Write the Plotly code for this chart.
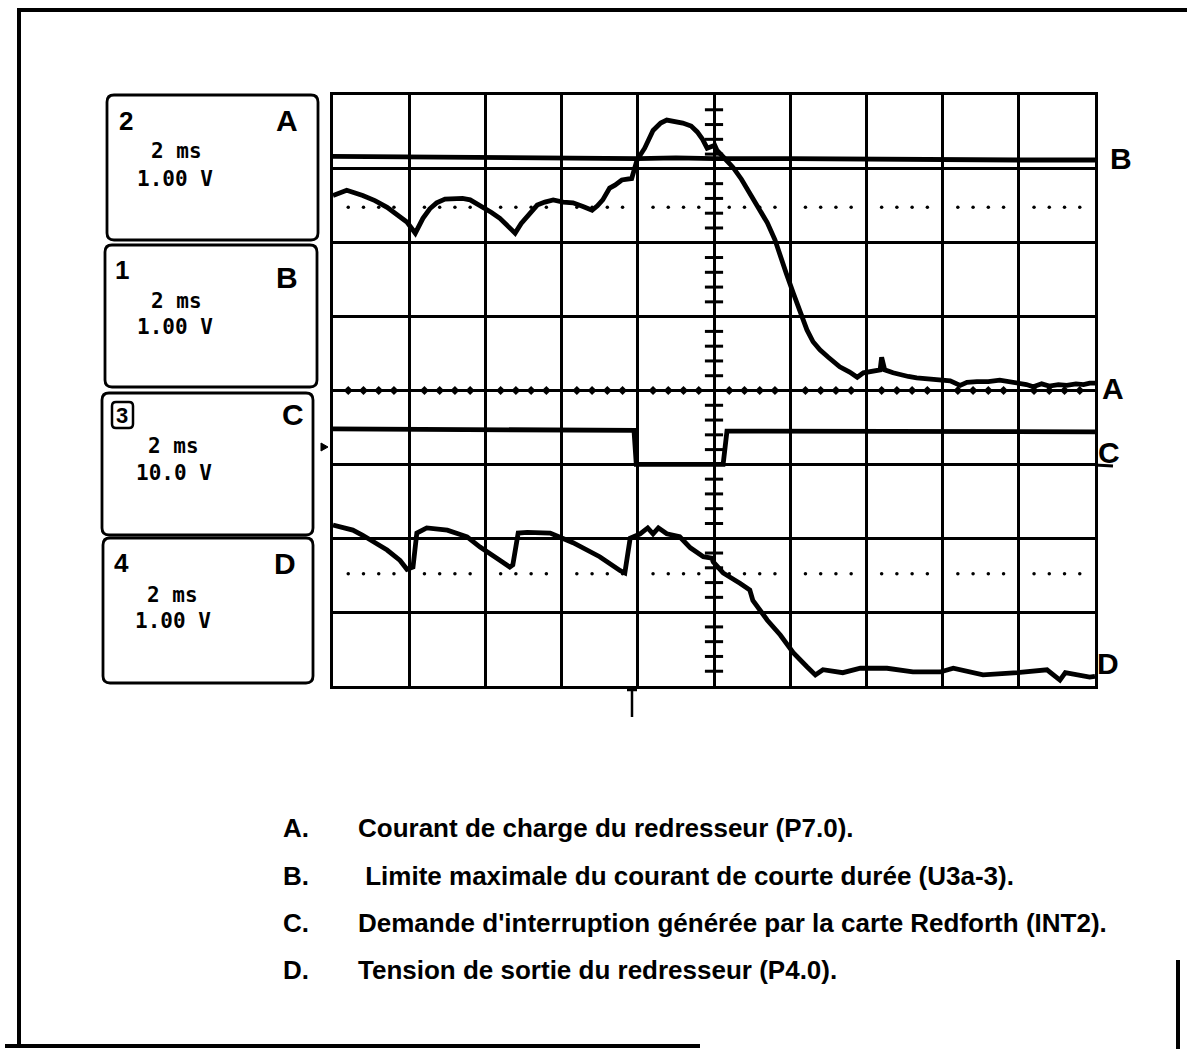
import plotly.graph_objects as go
import numpy as np

W, H = 1187, 1049

# ---------------- data (screen divisions: x 0..10, y 0..8) ----------------
A_x = [0.00, 0.18, 0.39, 0.55, 0.71, 0.85, 0.97, 1.08, 1.18, 1.27, 1.36, 1.47, 1.57, 1.70, 1.80,
       1.97, 2.08, 2.19, 2.30, 2.39, 2.47, 2.55, 2.68, 2.78, 2.89, 3.02, 3.15, 3.28, 3.40, 3.47,
       3.54, 3.63, 3.70, 3.79, 3.92, 3.99, 4.09, 4.20, 4.30, 4.38, 4.50, 4.59, 4.70, 4.78, 4.85,
       4.91, 5.01, 5.04, 5.15, 5.25, 5.36, 5.47, 5.58, 5.70, 5.80, 5.87, 5.95, 6.04, 6.13, 6.22,
       6.30, 6.39, 6.50, 6.58, 6.65, 6.78, 6.88, 6.96, 7.05, 7.18, 7.20, 7.24, 7.35, 7.45, 7.55,
       7.66, 7.80, 7.97, 8.10, 8.23, 8.32, 8.45, 8.60, 8.75, 8.88, 8.98, 9.10, 9.19, 9.30, 9.40,
       9.52, 9.63, 9.75, 9.85, 9.93, 10.0]
A_y = [6.64, 6.71, 6.64, 6.57, 6.48, 6.38, 6.28, 6.13, 6.33, 6.46, 6.54, 6.59, 6.60, 6.60, 6.58,
       6.48, 6.41, 6.33, 6.23, 6.13, 6.26, 6.35, 6.51, 6.55, 6.58, 6.55, 6.54, 6.49, 6.44, 6.50,
       6.58, 6.74, 6.78, 6.85, 6.87, 7.12, 7.28, 7.52, 7.62, 7.66, 7.64, 7.62, 7.58, 7.50, 7.40,
       7.28, 7.32, 7.25, 7.13, 7.02, 6.86, 6.67, 6.48, 6.27, 6.04, 5.81, 5.58, 5.32, 5.07, 4.82,
       4.66, 4.55, 4.45, 4.38, 4.32, 4.25, 4.18, 4.24, 4.25, 4.28, 4.45, 4.28, 4.24, 4.21, 4.19,
       4.17, 4.16, 4.14, 4.13, 4.07, 4.11, 4.12, 4.12, 4.14, 4.12, 4.10, 4.08, 4.05, 4.09, 4.06,
       4.08, 4.07, 4.09, 4.08, 4.10, 4.10]

B_x = [0.0, 1.0, 2.0, 3.0, 4.0, 4.5, 5.0, 6.0, 7.0, 8.0, 9.0, 10.0]
B_y = [7.17, 7.16, 7.16, 7.15, 7.14, 7.15, 7.14, 7.14, 7.13, 7.13, 7.12, 7.12]

C_x = [0.0, 3.95, 3.98, 5.12, 5.17, 10.0]
C_y = [3.48, 3.46, 3.00, 3.00, 3.45, 3.44]

D_x = [0.00, 0.09, 0.26, 0.39, 0.71, 0.88, 0.97, 1.05, 1.10, 1.23, 1.50, 1.76, 1.93, 2.15, 2.32,
       2.36, 2.43, 2.55, 2.85, 3.15, 3.50, 3.77, 3.83, 3.90, 4.03, 4.13, 4.20, 4.27, 4.38, 4.55,
       4.69, 4.86, 4.97, 4.99, 5.12, 5.34, 5.47, 5.51, 5.70, 5.87, 6.04, 6.22, 6.33, 6.43, 6.69,
       6.92, 7.27, 7.61, 7.97, 8.14, 8.53, 8.98, 9.37, 9.54, 9.61, 9.93, 10.0]
D_y = [2.18, 2.16, 2.11, 2.04, 1.84, 1.70, 1.58, 1.61, 2.07, 2.14, 2.11, 2.02, 1.88, 1.73, 1.61,
       1.64, 2.07, 2.08, 2.07, 1.94, 1.75, 1.56, 1.53, 2.00, 2.06, 2.14, 2.06, 2.14, 2.06, 2.02,
       1.87, 1.75, 1.73, 1.68, 1.53, 1.39, 1.30, 1.16, 0.89, 0.69, 0.45, 0.26, 0.15, 0.22, 0.18,
       0.24, 0.24, 0.19, 0.19, 0.24, 0.15, 0.18, 0.22, 0.08, 0.18, 0.12, 0.13]

REF_LEVELS = [6.48, 1.52]          # dotted reference levels (A and D)
CENTER_X, CENTER_Y = 5.0, 4.0       # graticule centre axes

CH_LABELS = ["A", "B", "C", "D"]
CH_NUMS = ["2", "1", "3", "4"]
CH_TIME = ["2 ms", "2 ms", "2 ms", "2 ms"]
CH_VOLT = ["1.00 V", "1.00 V", "10.0 V", "1.00 V"]

LEGEND_KEYS = ["A.", "B.", "C.", "D."]
LEGEND_TEXT = [
    "Courant de charge du redresseur (P7.0).",
    " Limite maximale du courant de courte durée (U3a-3).",
    "Demande d'interruption générée par la carte Redforth (INT2).",
    "Tension de sortie du redresseur (P4.0).",
]

# ---------------- geometry helpers (pixel -> paper) ----------------
def px(x):
    return x / W

def py(y):
    return 1 - y / H

GX0, GX1, GY0, GY1 = 333, 1095, 95, 686   # graticule in pixels

fig = go.Figure()

# dotted reference lines
sub = np.round(np.arange(0, 10.001, 0.2), 2)
sub = [v for v in sub if abs(v - round(v)) > 1e-6]
for lvl in REF_LEVELS:
    fig.add_trace(go.Scatter(x=sub, y=[lvl] * len(sub), mode="markers",
                             marker=dict(color="black", size=3.5, symbol="circle"),
                             hoverinfo="skip"))

# centre axis minor ticks
fig.add_trace(go.Scatter(x=sub, y=[CENTER_Y] * len(sub), mode="markers",
                         marker=dict(color="black", size=7, symbol="diamond"),
                         hoverinfo="skip"))
suby = np.round(np.arange(0, 8.001, 0.2), 2)
suby = [v for v in suby if abs(v - round(v)) > 1e-6]
fig.add_trace(go.Scatter(x=[CENTER_X] * len(suby), y=suby, mode="markers",
                         marker=dict(color="black", size=13, symbol="line-ew",
                                     line=dict(color="black", width=3)),
                         hoverinfo="skip"))

# signal traces
for xs, ys in [(B_x, B_y), (C_x, C_y), (A_x, A_y), (D_x, D_y)]:
    fig.add_trace(go.Scatter(x=xs, y=ys, mode="lines",
                             line=dict(color="black", width=4.8),
                             hoverinfo="skip"))

axis_common = dict(showgrid=True, gridcolor="black", gridwidth=2.5, dtick=1,
                   showline=True, mirror=True, linecolor="black", linewidth=3,
                   zeroline=False, showticklabels=False, ticks="", fixedrange=True)

fig.update_layout(
    width=W, height=H, margin=dict(l=0, r=0, t=0, b=0),
    paper_bgcolor="white", plot_bgcolor="white", showlegend=False,
    xaxis=dict(range=[0, 10], domain=[px(GX0), px(GX1)], tick0=0, **axis_common),
    yaxis=dict(range=[0, 8], domain=[py(GY1), py(GY0)], tick0=0, **axis_common),
)

shapes = []
# outer frame (partial, as in the scan)
shapes.append(dict(type="line", xref="paper", yref="paper", x0=px(17), x1=px(1187), y0=py(10), y1=py(10),
                   line=dict(color="black", width=4)))
shapes.append(dict(type="line", xref="paper", yref="paper", x0=px(19), x1=px(19), y0=py(10), y1=py(1046),
                   line=dict(color="black", width=4)))
shapes.append(dict(type="line", xref="paper", yref="paper", x0=px(5), x1=px(700), y0=py(1046), y1=py(1046),
                   line=dict(color="black", width=4)))
shapes.append(dict(type="line", xref="paper", yref="paper", x0=px(1178), x1=px(1178), y0=py(960), y1=py(1049),
                   line=dict(color="black", width=4)))

# channel boxes with rounded corners
boxes = [(107, 95, 318, 240), (105, 245, 317, 387), (102, 393, 313, 535), (103, 538, 313, 683)]
r = 7
for (x0, y0, x1, y1) in boxes:
    path = (f"M {px(x0 + r)},{py(y0)} L {px(x1 - r)},{py(y0)} Q {px(x1)},{py(y0)} {px(x1)},{py(y0 + r)} "
            f"L {px(x1)},{py(y1 - r)} Q {px(x1)},{py(y1)} {px(x1 - r)},{py(y1)} "
            f"L {px(x0 + r)},{py(y1)} Q {px(x0)},{py(y1)} {px(x0)},{py(y1 - r)} "
            f"L {px(x0)},{py(y0 + r)} Q {px(x0)},{py(y0)} {px(x0 + r)},{py(y0)} Z")
    shapes.append(dict(type="path", xref="paper", yref="paper", path=path,
                       line=dict(color="black", width=2.8)))

# boxed "3"
bx0, by0, bx1, by1, rr = 112, 402, 133, 428, 4
path = (f"M {px(bx0 + rr)},{py(by0)} L {px(bx1 - rr)},{py(by0)} Q {px(bx1)},{py(by0)} {px(bx1)},{py(by0 + rr)} "
        f"L {px(bx1)},{py(by1 - rr)} Q {px(bx1)},{py(by1)} {px(bx1 - rr)},{py(by1)} "
        f"L {px(bx0 + rr)},{py(by1)} Q {px(bx0)},{py(by1)} {px(bx0)},{py(by1 - rr)} "
        f"L {px(bx0)},{py(by0 + rr)} Q {px(bx0)},{py(by0)} {px(bx0 + rr)},{py(by0)} Z")
shapes.append(dict(type="path", xref="paper", yref="paper", path=path, line=dict(color="black", width=2.5)))

# C ground line extension beyond right edge
shapes.append(dict(type="line", xref="paper", yref="paper", x0=px(GX1), x1=px(1113), y0=py(465), y1=py(466),
                   line=dict(color="black", width=3)))
# trigger position marker (bottom)
shapes.append(dict(type="line", xref="paper", yref="paper", x0=px(632), x1=px(632), y0=py(686), y1=py(717),
                   line=dict(color="black", width=2.5)))
shapes.append(dict(type="line", xref="paper", yref="paper", x0=px(627), x1=px(637), y0=py(690), y1=py(690),
                   line=dict(color="black", width=2.5)))
# trigger level marker (left)
shapes.append(dict(type="path", xref="paper", yref="paper",
                   path=f"M {px(321)},{py(443)} L {px(328)},{py(447)} L {px(321)},{py(451)} Z",
                   fillcolor="black", line=dict(color="black", width=1)))
fig.update_layout(shapes=shapes)

ann = []
SANS = "Liberation Sans"
MONO = "DejaVu Sans Mono"
# right-hand channel labels
for lab, (x, y) in zip(CH_LABELS, [(1113, 388), (1121, 158), (1109, 452), (1108, 663)]):
    ann.append(dict(text=lab, x=px(x), y=py(y), xref="paper", yref="paper", showarrow=False,
                    xanchor="center", yanchor="middle",
                    font=dict(family=SANS, size=30, color="black", weight="bold")))

# channel boxes text
num_pos = [(126, 121), (122, 270), (122, 415), (121, 563)]
let_pos = [(287, 121), (287, 277), (293, 414), (285, 563)]
time_pos = [(176, 151), (176, 301), (173, 446), (172, 595)]
volt_pos = [(175, 179), (175, 327), (174, 473), (173, 621)]
for i, lab in enumerate(CH_LABELS):
    ann.append(dict(text=CH_NUMS[i], x=px(num_pos[i][0]), y=py(num_pos[i][1]), xref="paper", yref="paper",
                    showarrow=False, xanchor="center", yanchor="middle",
                    font=dict(family=SANS, size=26 if i != 2 else 22, color="black", weight="bold")))
    ann.append(dict(text=lab, x=px(let_pos[i][0]), y=py(let_pos[i][1]), xref="paper", yref="paper",
                    showarrow=False, xanchor="center", yanchor="middle",
                    font=dict(family=SANS, size=30, color="black", weight="bold")))
    ann.append(dict(text=CH_TIME[i], x=px(time_pos[i][0]), y=py(time_pos[i][1]), xref="paper", yref="paper",
                    showarrow=False, xanchor="center", yanchor="middle",
                    font=dict(family=MONO, size=21, color="black", weight="bold")))
    ann.append(dict(text=CH_VOLT[i], x=px(volt_pos[i][0]), y=py(volt_pos[i][1]), xref="paper", yref="paper",
                    showarrow=False, xanchor="center", yanchor="middle",
                    font=dict(family=MONO, size=21, color="black", weight="bold")))

# legend text block
leg_y = [828, 876, 923, 970]
for k, t, y in zip(LEGEND_KEYS, LEGEND_TEXT, leg_y):
    ann.append(dict(text=k, x=px(281), y=py(y), xref="paper", yref="paper", showarrow=False,
                    xanchor="left", yanchor="middle",
                    font=dict(family=SANS, size=26, color="black", weight="bold")))
    ann.append(dict(text=t.replace(" ", "&nbsp;", 1) if t.startswith(" ") else t,
                    x=px(356), y=py(y), xref="paper", yref="paper", showarrow=False,
                    xanchor="left", yanchor="middle",
                    font=dict(family=SANS, size=26, color="black", weight="bold")))
fig.update_layout(annotations=ann)

fig.write_html("out.html", config={"displayModeBar": False},
               post_script="document.body.style.margin='0';document.body.style.overflow='hidden';")
